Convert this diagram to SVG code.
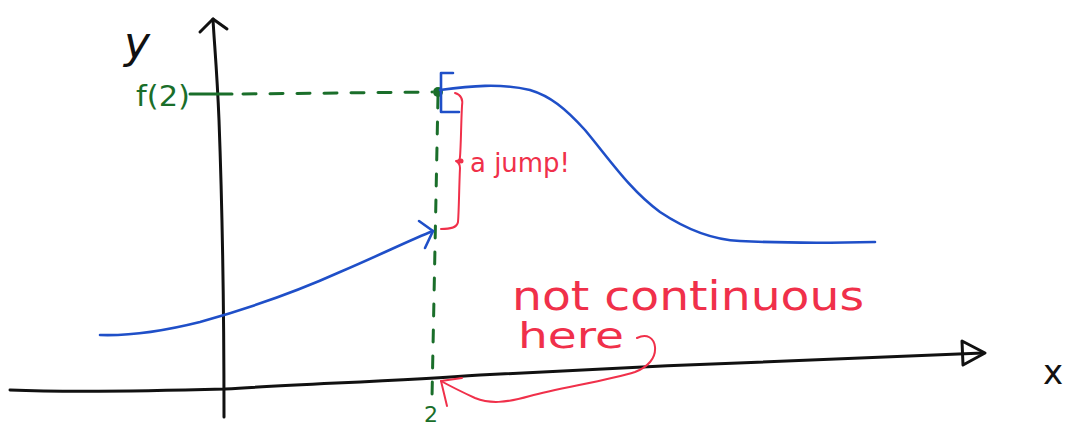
<svg xmlns="http://www.w3.org/2000/svg" width="1071" height="430" viewBox="0 0 1071 430">
<style>
.ax{fill:none;stroke:#111;stroke-width:3;stroke-linecap:round;stroke-linejoin:round}
.bl{fill:none;stroke:#1f4fc8;stroke-width:2.6;stroke-linecap:round;stroke-linejoin:round}
.rd{fill:none;stroke:#f0304a;stroke-width:2;stroke-linecap:round;stroke-linejoin:round}
.gr{fill:none;stroke:#1a6e2a;stroke-width:3;stroke-linecap:round}
text{font-family:"DejaVu Sans","Liberation Sans",sans-serif}
.tg{fill:#1a6e2a}
.tr{fill:#f0304a}
.tk{fill:#111}
</style>
<rect width="1071" height="430" fill="#fff"/>
<g id="axes">
<path class="ax" d="M10,390 C60,392 150,391 225,389 C300,384 400,381 480,375 C650,366 800,360 983,353"/>
<polygon class="ax" points="962,341 985,353 963,365"/>
<path class="ax" d="M224,417 C224,300 222,200 219,120 C217,70 214,40 213,19"/>
<polyline class="ax" points="200,32 213,19 227,29"/>
<text class="tk" x="124" y="58" font-size="44" font-style="italic">y</text>
<text class="tk" x="1043" y="384" font-size="34">x</text>
</g>
<g id="guides">
<line class="gr" x1="190" y1="94" x2="232" y2="94"/>
<line class="gr" x1="243" y1="94" x2="432" y2="92" stroke-dasharray="13,14"/>
<line class="gr" x1="438" y1="96" x2="432" y2="398" stroke-dasharray="12,14"/>
<circle cx="438" cy="92" r="5" fill="#1a6e2a"/>
<text class="tg" x="136" y="106" font-size="28" textLength="54" lengthAdjust="spacingAndGlyphs">f(2)</text>
<text class="tg" x="424" y="422" font-size="22">2</text>
</g>
<g id="curve">
<path class="bl" d="M100,335 C130,336 160,332 200,322 C250,308 300,290 340,272 C380,255 410,240 433,231"/>
<polyline class="bl" points="419,221 433,231 425,248"/>
<polyline class="bl" points="453,73 441,73 441,112 459,112"/>
<path class="bl" d="M440,90 C470,86 500,83 530,90 C550,96 565,108 585,130 C610,160 630,190 660,212 C690,232 715,240 740,241 C780,243 830,243 875,242"/>
</g>
<g id="annotations">
<path class="rd" d="M455,93 C462,95 463,100 462,106 C461,125 461,145 460,157 C460,160 458,161 456,161 C458,162 460,164 460,168 C459,190 459,210 458,222 C457,228 450,229 441,229"/>
<circle cx="461" cy="161" r="2.5" fill="#f0304a"/>
<text class="tr" x="470" y="172" font-size="27" textLength="100" lengthAdjust="spacingAndGlyphs">a jump!</text>
<text class="tr" x="512" y="310" font-size="40" textLength="352" lengthAdjust="spacingAndGlyphs">not continuous</text>
<text class="tr" x="518" y="348" font-size="36" textLength="106" lengthAdjust="spacingAndGlyphs">here</text>
<path class="rd" d="M637,338 C647,333 654,338 655,347 C656,358 648,367 635,372 C610,380 560,388 530,396 C505,403 490,404 475,398 C462,392 450,386 441,381"/>
<polyline class="rd" points="462,378 441,381 447,406"/>
</g>
</svg>
